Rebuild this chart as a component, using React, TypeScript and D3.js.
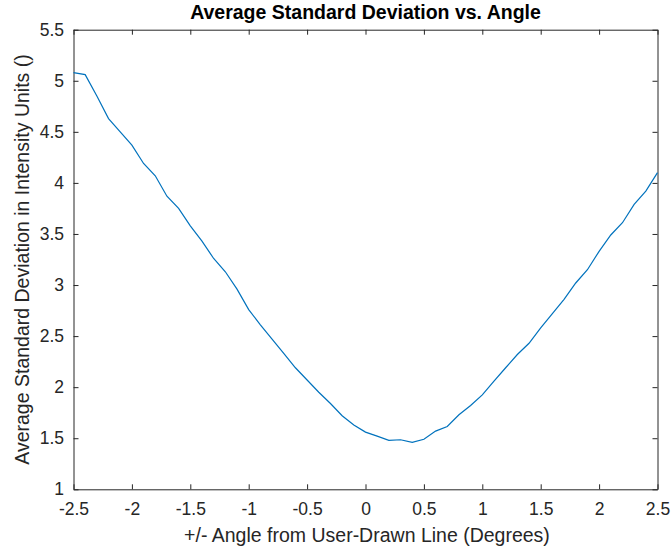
import React, { useEffect, useRef } from "react";
import * as d3 from "d3";

// Angle offsets (degrees) and the averaged standard deviation at each one
const angles: number[] = [
  -2.5, -2.4, -2.3, -2.2, -2.1, -2.0, -1.9, -1.8, -1.7, -1.6, -1.5, -1.4, -1.3,
  -1.2, -1.1, -1.0, -0.9, -0.8, -0.7, -0.6, -0.5, -0.4, -0.3, -0.2, -0.1, 0.0,
  0.1, 0.2, 0.3, 0.4, 0.5, 0.6, 0.7, 0.8, 0.9, 1.0, 1.1, 1.2, 1.3, 1.4, 1.5,
  1.6, 1.7, 1.8, 1.9, 2.0, 2.1, 2.2, 2.3, 2.4, 2.5,
];
const avgStd: number[] = [
  5.08, 5.06, 4.85, 4.63, 4.5, 4.37, 4.19, 4.07, 3.87, 3.75, 3.58, 3.43, 3.26,
  3.13, 2.96, 2.76, 2.61, 2.47, 2.33, 2.19, 2.07, 1.95, 1.84, 1.72, 1.63, 1.56,
  1.52, 1.48, 1.485, 1.46, 1.49, 1.57, 1.615, 1.73, 1.82, 1.925, 2.06, 2.19,
  2.32, 2.43, 2.58, 2.72, 2.86, 3.02, 3.15, 3.33, 3.49, 3.61, 3.79, 3.92, 4.1,
];
const xTicks: number[] = [-2.5, -2, -1.5, -1, -0.5, 0, 0.5, 1, 1.5, 2, 2.5];
const yTicks: number[] = [1, 1.5, 2, 2.5, 3, 3.5, 4, 4.5, 5, 5.5];

const titleText = "Average Standard Deviation vs. Angle";
const xLabel = "+/- Angle from User-Drawn Line (Degrees)";
const yLabel = "Average Standard Deviation in Intensity Units ()";

const W = 671;
const H = 549;
const M = { left: 73.5, right: 657.5, top: 29.7, bottom: 489.3 };
const AX = "#262626";
const FONT = "'Liberation Sans', Arial, Helvetica, sans-serif";
const TICK_FS = 17.5;
const LABEL_FS = 19.5;

export default function App() {
  const ref = useRef<SVGSVGElement | null>(null);

  useEffect(() => {
    const svg = d3.select(ref.current);
    svg.selectAll("*").remove();

    const x = d3.scaleLinear().domain([-2.5, 2.5]).range([M.left, M.right]);
    const y = d3.scaleLinear().domain([1, 5.5]).range([M.bottom, M.top]);
    const tl = 5;
    const fmt = (d: d3.NumberValue) => String(+d);

    svg.append("rect").attr("width", W).attr("height", H).attr("fill", "#fff");

    // Box axes with inward ticks; labels only on bottom and left
    const bottom = svg
      .append("g")
      .attr("transform", `translate(0,${M.bottom})`)
      .call(
        d3.axisBottom(x).tickValues(xTicks).tickSizeInner(-tl).tickSizeOuter(0).tickPadding(13).tickFormat(fmt)
      );
    const top = svg
      .append("g")
      .attr("transform", `translate(0,${M.top})`)
      .call(d3.axisTop(x).tickValues(xTicks).tickSizeInner(-tl).tickSizeOuter(0).tickFormat(() => ""));
    const left = svg
      .append("g")
      .attr("transform", `translate(${M.left},0)`)
      .call(
        d3.axisLeft(y).tickValues(yTicks).tickSizeInner(-tl).tickSizeOuter(0).tickPadding(9.5).tickFormat(fmt)
      );
    const right = svg
      .append("g")
      .attr("transform", `translate(${M.right},0)`)
      .call(d3.axisRight(y).tickValues(yTicks).tickSizeInner(-tl).tickSizeOuter(0).tickFormat(() => ""));

    [bottom, top, left, right].forEach((g) => {
      g.selectAll("path").attr("stroke", AX).attr("stroke-width", 1);
      g.selectAll("line").attr("stroke", AX).attr("stroke-width", 1);
      g.selectAll("text")
        .attr("fill", AX)
        .style("font-family", FONT)
        .style("font-size", `${TICK_FS}px`);
    });

    // Data line
    const line = d3
      .line<number>()
      .x((_, i) => x(angles[i]))
      .y((d) => y(d));
    svg
      .append("path")
      .datum(avgStd)
      .attr("d", line)
      .attr("fill", "none")
      .attr("stroke", "#0072BD")
      .attr("stroke-width", 1.2);

    svg
      .append("text")
      .attr("x", (M.left + M.right) / 2)
      .attr("y", 19)
      .attr("text-anchor", "middle")
      .style("font-family", FONT)
      .style("font-size", `${LABEL_FS}px`)
      .style("font-weight", "bold")
      .attr("fill", "#000")
      .text(titleText);

    svg
      .append("text")
      .attr("x", (M.left + M.right) / 2 + 1.5)
      .attr("y", 542)
      .attr("text-anchor", "middle")
      .style("font-family", FONT)
      .style("font-size", `${LABEL_FS}px`)
      .attr("fill", AX)
      .text(xLabel);

    svg
      .append("text")
      .attr("transform", `translate(29,${(M.top + M.bottom) / 2}) rotate(-90)`)
      .attr("text-anchor", "middle")
      .style("font-family", FONT)
      .style("font-size", `${LABEL_FS}px`)
      .attr("fill", AX)
      .text(yLabel);
  }, []);

  return (
    <svg
      ref={ref}
      width={W}
      height={H}
      style={{ position: "absolute", left: 0, top: 0, display: "block" }}
    />
  );
}
